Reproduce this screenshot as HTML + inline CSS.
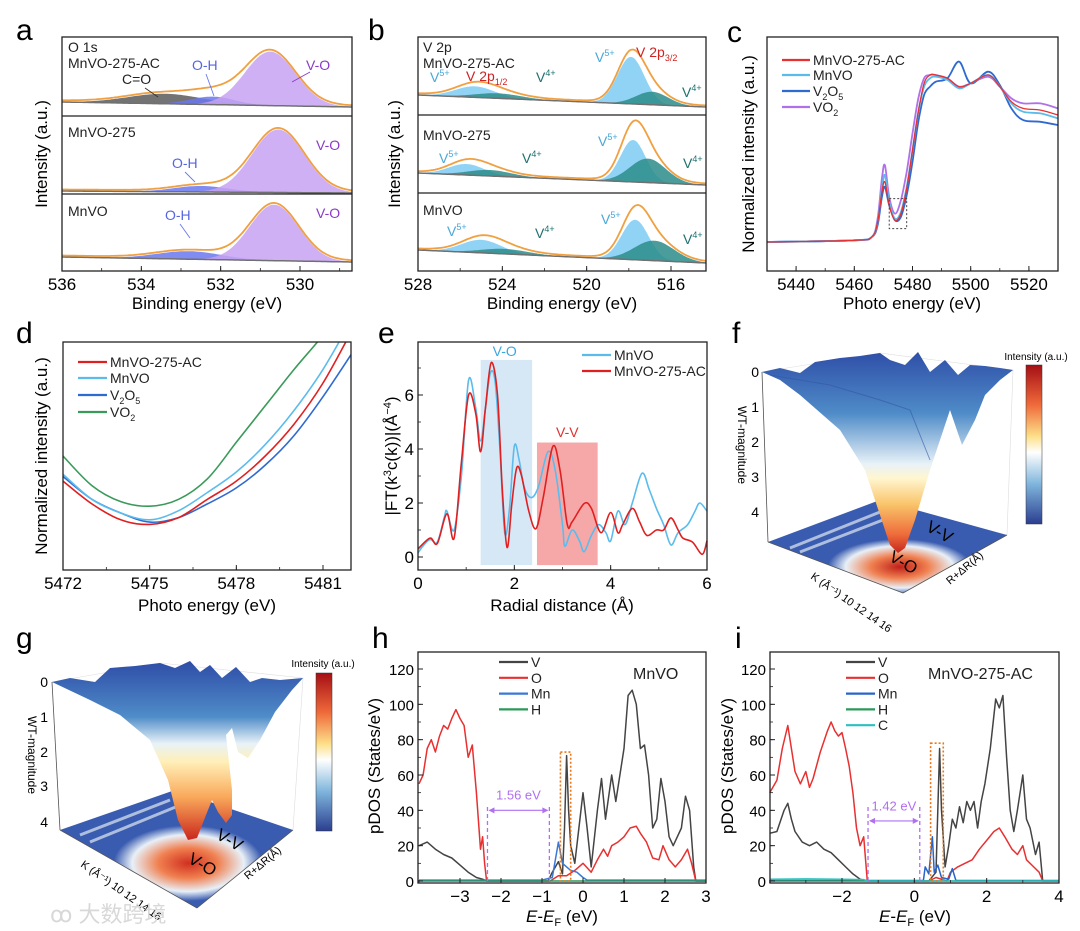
<!DOCTYPE html>
<html><head><meta charset="utf-8">
<style>
html,body{margin:0;padding:0;background:#fff;}
svg{display:block;font-family:"Liberation Sans","Noto Sans CJK SC",sans-serif;}
</style></head>
<body>
<svg id="fig" width="1080" height="931" viewBox="0 0 1080 931" xmlns="http://www.w3.org/2000/svg">
<defs>
<linearGradient id="cbar" x1="0" y1="0" x2="0" y2="1">
<stop offset="0" stop-color="#a50f15"/><stop offset="0.25" stop-color="#ef6a3a"/><stop offset="0.45" stop-color="#fde08a"/><stop offset="0.55" stop-color="#ffffff"/><stop offset="0.75" stop-color="#7fb5dc"/><stop offset="1" stop-color="#2b3e90"/>
</linearGradient>
<linearGradient id="surfF" x1="0" y1="353" x2="0" y2="555" gradientUnits="userSpaceOnUse">
<stop offset="0" stop-color="#2f4fa8"/><stop offset="0.3" stop-color="#4f8cc8"/><stop offset="0.55" stop-color="#e8f2f8"/><stop offset="0.62" stop-color="#fff6d0"/><stop offset="0.75" stop-color="#f9c46a"/><stop offset="0.9" stop-color="#ee6a3a"/><stop offset="1" stop-color="#c0201a"/>
</linearGradient>
<linearGradient id="surfG" x1="0" y1="663" x2="0" y2="842" gradientUnits="userSpaceOnUse">
<stop offset="0" stop-color="#2f4fa8"/><stop offset="0.3" stop-color="#4f8cc8"/><stop offset="0.45" stop-color="#e8f2f8"/><stop offset="0.55" stop-color="#fff0b8"/><stop offset="0.75" stop-color="#f9a85a"/><stop offset="1" stop-color="#c8201a"/>
</linearGradient>
<radialGradient id="floorF" cx="0.55" cy="0.72" r="0.3">
<stop offset="0" stop-color="#c0201a"/><stop offset="0.4" stop-color="#f08050"/><stop offset="0.75" stop-color="#e8f0f8"/><stop offset="1" stop-color="#3a5cb0"/>
</radialGradient>
<radialGradient id="floorG" cx="0.55" cy="0.62" r="0.32">
<stop offset="0" stop-color="#d03020"/><stop offset="0.4" stop-color="#f08050"/><stop offset="0.75" stop-color="#e8f0f8"/><stop offset="1" stop-color="#3a5cb0"/>
</radialGradient>
</defs>

<text x="16" y="40" font-size="30">a</text>
<text x="368" y="40" font-size="30">b</text>
<text x="727" y="42" font-size="30">c</text>
<text x="16" y="343" font-size="30">d</text>
<text x="378" y="343" font-size="30">e</text>
<text x="732" y="343" font-size="30">f</text>
<text x="16" y="648" font-size="30">g</text>
<text x="372" y="648" font-size="30">h</text>
<text x="735" y="648" font-size="30">i</text>

<text x="207" y="309" font-size="17" text-anchor="middle">Binding energy (eV)</text>
<text x="562" y="309" font-size="17" text-anchor="middle">Binding energy (eV)</text>
<text x="912" y="309" font-size="17" text-anchor="middle">Photo energy (eV)</text>
<text x="207" y="611" font-size="17" text-anchor="middle">Photo energy (eV)</text>
<text x="562" y="611" font-size="17" text-anchor="middle">Radial distance (Å)</text>
<text x="562" y="922" font-size="17" text-anchor="middle"><tspan font-style="italic">E</tspan>-<tspan font-style="italic">E</tspan><tspan font-size="11" dy="4">F</tspan><tspan dy="-4"> (eV)</tspan></text>
<text x="915" y="922" font-size="17" text-anchor="middle"><tspan font-style="italic">E</tspan>-<tspan font-style="italic">E</tspan><tspan font-size="11" dy="4">F</tspan><tspan dy="-4"> (eV)</tspan></text>
<text transform="translate(47,154) rotate(-90)" font-size="17" text-anchor="middle">Intensity (a.u.)</text>
<text transform="translate(400,154) rotate(-90)" font-size="17" text-anchor="middle">Intensity (a.u.)</text>
<text transform="translate(754,154) rotate(-90)" font-size="17" text-anchor="middle">Normalized intensity (a.u.)</text>
<text transform="translate(47,456) rotate(-90)" font-size="17" text-anchor="middle">Normalized intensity (a.u.)</text>
<text transform="translate(397,456) rotate(-90)" font-size="17" text-anchor="middle">|FT(k<tspan font-size="11" dy="-6">3</tspan><tspan dy="6">c(k))|(Å</tspan><tspan font-size="11" dy="-6">−4</tspan><tspan dy="6">)</tspan></text>
<text transform="translate(380,766) rotate(-90)" font-size="17" text-anchor="middle">pDOS (States/eV)</text>
<text transform="translate(733,766) rotate(-90)" font-size="17" text-anchor="middle">pDOS (States/eV)</text>

<g>
<polygon points="762,372 880,353 1013,370 1007,535 903,593 768,542" fill="none" stroke="#ddd" stroke-width="0.6"/>
<line x1="880" y1="353" x2="880" y2="490" stroke="#e4e4e4"/>
<polygon points="768,542 880,500 1007,535 903,593" fill="url(#floorF)"/>
<path d="M790,548 L880,512 M800,552 L888,518" stroke="#dfe8f4" stroke-width="3" opacity="0.7"/>
<path d="M762,372 L780,368 800,373 815,362 840,358 860,356 880,353 890,360 905,365 918,352 930,372 945,360 958,375 970,365 985,366 1000,368 1013,370 L1000,380 985,395 975,420 962,445 950,410 940,440 930,470 915,520 905,548 898,553 890,545 880,515 865,470 840,430 800,395 780,380 Z" fill="url(#surfF)"/>
<path d="M770,375 L830,385 880,400 910,410 930,460" fill="none" stroke="#3456a8" stroke-width="1" opacity="0.6"/>
<line x1="762" y1="372" x2="768" y2="542" stroke="#555" stroke-width="0.8"/>
<line x1="768" y1="542" x2="903" y2="593" stroke="#555" stroke-width="0.8"/>
<line x1="903" y1="593" x2="1007" y2="535" stroke="#555" stroke-width="0.8"/>
<g font-size="14" text-anchor="end"><text x="759" y="377">0</text><text x="759" y="412">1</text><text x="759" y="447">2</text><text x="759" y="482">3</text><text x="759" y="517">4</text></g>
<text transform="translate(738,445) rotate(90)" font-size="12" text-anchor="middle">WT-magnitude</text>
<text transform="translate(810,578) rotate(35)" font-size="11">K (Å⁻¹) 10 12 14 16</text>
<text transform="translate(950,585) rotate(-40)" font-size="11">R+ΔR(Å)</text>
<text transform="translate(888,560) rotate(30)" font-size="17">V-O</text>
<text transform="translate(925,530) rotate(30)" font-size="17">V-V</text>
<text x="1036" y="360" font-size="10" text-anchor="middle">Intensity (a.u.)</text>
<rect x="1026" y="365" width="16" height="159" fill="url(#cbar)" stroke="#333" stroke-width="0.5"/>
</g>

<g>
<polygon points="52,682 160,663 303,678 293,830 197,908 60,830" fill="none" stroke="#ddd" stroke-width="0.6"/>
<polygon points="60,830 175,790 293,830 197,908" fill="url(#floorG)"/>
<path d="M80,835 L170,800 M90,842 L178,806" stroke="#dfe8f4" stroke-width="3" opacity="0.7"/>
<path d="M52,682 L70,678 95,682 110,668 135,666 160,663 175,668 190,661 200,672 210,665 222,678 236,667 250,682 262,678 280,680 303,678 L292,690 275,712 260,740 248,758 238,752 232,728 226,735 232,790 232,815 226,823 218,812 212,800 206,815 197,838 188,840 178,820 168,780 150,740 120,715 90,700 Z" fill="url(#surfG)"/>
<line x1="52" y1="682" x2="60" y2="830" stroke="#555" stroke-width="0.8"/>
<line x1="60" y1="830" x2="197" y2="908" stroke="#555" stroke-width="0.8"/>
<line x1="197" y1="908" x2="293" y2="830" stroke="#555" stroke-width="0.8"/>
<g font-size="14" text-anchor="end"><text x="48" y="687">0</text><text x="48" y="722">1</text><text x="48" y="757">2</text><text x="48" y="791">3</text><text x="48" y="827">4</text></g>
<text transform="translate(28,755) rotate(90)" font-size="12" text-anchor="middle">WT-magnitude</text>
<text transform="translate(80,866) rotate(35)" font-size="11">K (Å⁻¹) 10 12 14 16</text>
<text transform="translate(248,880) rotate(-40)" font-size="11">R+ΔR(Å)</text>
<text transform="translate(187,862) rotate(30)" font-size="17">V-O</text>
<text transform="translate(215,838) rotate(30)" font-size="17">V-V</text>
<text x="323" y="667" font-size="10" text-anchor="middle">Intensity (a.u.)</text>
<rect x="316" y="673" width="16" height="158" fill="url(#cbar)" stroke="#333" stroke-width="0.5"/>
</g>

<text x="50" y="922" font-size="22" fill="#d8d8d8">ꝏ 大数跨境</text>

<g id="plots"></g>
</svg>

<script>
// ================= DATA =================
const aCenters = [[533.4, 532.2, 530.75], [533.2, 532.5, 530.55], [533.5, 532.8, 530.65]];
const aHeights = [[10, 8, 54], [0, 6, 63], [0, 8, 56]];
const aFwhm = [[2.2, 1.3, 1.5], [2, 1.6, 1.55], [2, 1.9, 1.45]];
const aBaseLeft = [102, 191, 257];
const aBaseRight = [107, 193, 262];
const aTicks = [536, 534, 532, 530];
const bCenters = [[525.3, 524.2, 517.9, 516.9], [525.7, 524.6, 517.8, 517.1], [525.0, 523.9, 517.7, 516.8]];
const bHeights = [[11, 5, 47, 13], [11, 6, 42, 24], [13, 5, 40, 20]];
const bFwhm = [[2.2, 2.6, 1.5, 1.8], [2.0, 2.4, 1.4, 2.0], [2.2, 2.6, 1.5, 2.2]];
const bBaseLeft = [95, 173, 250];
const bBaseRight = [107, 185, 263];
const bTicks = [528, 524, 520, 516];
const cX = [5430, 5460, 5466, 5468, 5469.5, 5470.5, 5472, 5474, 5476, 5478, 5480, 5482, 5484, 5486, 5488, 5492, 5496, 5500, 5506, 5510, 5514, 5518, 5524, 5530];
const cAC = [0, 0.01, 0.03, 0.12, 0.3, 0.36, 0.22, 0.13, 0.17, 0.32, 0.55, 0.78, 0.95, 1.0, 1.0, 0.98, 0.93, 0.95, 1.0, 0.93, 0.84, 0.8, 0.79, 0.76];
const cMnVO = [0, 0.01, 0.03, 0.12, 0.32, 0.4, 0.24, 0.14, 0.18, 0.33, 0.55, 0.78, 0.93, 0.98, 0.99, 0.97, 0.92, 0.95, 1.0, 0.93, 0.83, 0.78, 0.77, 0.74];
const cV2O5 = [0, 0.01, 0.03, 0.1, 0.27, 0.33, 0.22, 0.13, 0.15, 0.28, 0.48, 0.72, 0.88, 0.93, 0.96, 0.98, 1.08, 0.95, 1.02, 0.94, 0.8, 0.73, 0.72, 0.7];
const cVO2 = [0, 0.01, 0.03, 0.14, 0.38, 0.46, 0.27, 0.17, 0.25, 0.42, 0.65, 0.86, 0.98, 1.0, 1.0, 0.98, 0.93, 0.95, 0.99, 0.93, 0.86, 0.83, 0.83, 0.8];
const cTicks = [5440, 5460, 5480, 5500, 5520];
const dX = [5472, 5473, 5474, 5475, 5476, 5477, 5478, 5479, 5480, 5481, 5482];
const dAC = [0.39, 0.29, 0.22, 0.2, 0.23, 0.31, 0.39, 0.5, 0.64, 0.82, 1.05];
const dMnVO = [0.42, 0.31, 0.25, 0.22, 0.26, 0.34, 0.43, 0.55, 0.7, 0.88, 1.1];
const dV2O5 = [0.41, 0.31, 0.25, 0.21, 0.23, 0.29, 0.36, 0.46, 0.59, 0.76, 0.95];
const dVO2 = [0.5, 0.37, 0.3, 0.28, 0.31, 0.4, 0.56, 0.72, 0.88, 1.03, 1.2];
const dTicks = [5472, 5475, 5478, 5481];
const eXMn = [0, 0.1, 0.25, 0.4, 0.55, 0.6, 0.75, 0.9, 1.05, 1.2, 1.3, 1.4, 1.5, 1.6, 1.7, 1.8, 1.9, 2.0, 2.1, 2.2, 2.35, 2.5, 2.7, 2.85, 3.0, 3.05, 3.2, 3.35, 3.45, 3.6, 3.75, 3.9, 4.0, 4.15, 4.3, 4.45, 4.65, 4.8, 4.95, 5.1, 5.25, 5.4, 5.6, 5.75, 5.85, 6.0];
const eMn = [0.15, 0.4, 0.65, 0.55, 1.5, 1.7, 1.0, 3.0, 6.55, 5.5, 4.3, 5.5, 6.8, 6.5, 4.0, 0.9, 1.8, 4.1, 3.6, 2.6, 2.2, 2.6, 3.9, 3.2, 1.2, 0.4, 1.0, 0.6, 0.2, 0.8, 1.2, 0.9, 0.6, 1.7, 1.2, 2.0, 3.1, 2.5, 1.8, 1.2, 0.45, 0.9, 1.2, 1.7, 2.0, 1.7];
const eXAC = [0, 0.25, 0.4, 0.6, 0.75, 0.9, 1.05, 1.2, 1.3, 1.4, 1.52, 1.65, 1.75, 1.85, 1.95, 2.05, 2.15, 2.3, 2.45, 2.6, 2.8, 2.95, 3.1, 3.2, 3.45, 3.6, 3.8, 4.0, 4.15, 4.25, 4.45, 4.6, 4.75, 4.95, 5.1, 5.25, 5.4, 5.5, 5.7, 5.9, 6.0];
const eAC = [0.3, 0.7, 0.5, 1.6, 0.7, 3.5, 6.0, 5.3, 3.9, 5.5, 7.2, 6.0, 2.5, 0.35, 2.0, 3.3, 3.0, 1.7, 1.05, 2.2, 4.1, 3.2, 1.2, 1.3, 1.98, 1.8, 0.9, 1.65, 0.9, 1.2, 1.8, 1.3, 0.8, 1.0, 1.0, 1.45, 1.0, 0.7, 0.55, 0.1, 0.6];
const eTicks = [0, 2, 4, 6];
const eYTicks = [0, 2, 4, 6];
const hXV = [-4, -3.8, -3.6, -3.4, -3.2, -3.0, -2.8, -2.6, -2.45, -2.35, -0.85, -0.75, -0.6, -0.5, -0.45, -0.4, -0.35, -0.3, -0.2, -0.1, 0, 0.1, 0.2, 0.35, 0.45, 0.55, 0.7, 0.8, 0.9, 1.0, 1.1, 1.2, 1.3, 1.4, 1.5, 1.6, 1.7, 1.8, 1.9, 2.0, 2.1, 2.2, 2.4, 2.5, 2.6, 2.7, 2.75, 3.0];
const hV = [20, 22, 18, 15, 13, 9, 5, 2, 1, 0, 0, 5, 11, 4, 30, 71, 40, 20, 10, 30, 50, 30, 8, 40, 58, 35, 60, 45, 60, 75, 105, 108, 100, 75, 77, 60, 30, 35, 58, 45, 25, 20, 30, 48, 40, 8, 0, 0];
const hXO = [-4, -3.9, -3.8, -3.7, -3.6, -3.5, -3.4, -3.3, -3.2, -3.1, -3.0, -2.9, -2.8, -2.7, -2.6, -2.5, -2.45, -2.4, -2.35, -0.8, -0.6, -0.4, -0.2, -0.1, 0, 0.2, 0.35, 0.5, 0.6, 0.7, 0.85, 1.0, 1.15, 1.3, 1.4, 1.55, 1.7, 1.85, 1.95, 2.1, 2.25, 2.4, 2.55, 2.65, 2.75, 3.0];
const hO = [55, 60, 75, 80, 73, 82, 88, 86, 92, 97, 92, 88, 70, 77, 50, 18, 25, 10, 0, 0, 3, 3, 6, 8, 10, 5, 12, 18, 14, 20, 22, 25, 30, 31, 27, 22, 13, 12, 20, 12, 8, 12, 18, 10, 0, 0];
const hXMn = [-4, -1, -0.75, -0.6, -0.5, -0.4, -0.3, -0.15, 0, 0.1, 3];
const hMn = [0.5, 0.5, 2, 22, 10, 8, 6, 5, 2, 0.5, 0.5];
const hXH = [-4, 3];
const hH = [0, 0];
const hGap = [-2.33, -0.82];
const hBox = [-0.55, -0.3, 73];
const hTicks = [-3, -2, -1, 0, 1, 2, 3];
const pdosYTicks = [0, 20, 40, 60, 80, 100, 120];
const iXV = [-4, -3.8, -3.6, -3.5, -3.4, -3.3, -3.1, -2.9, -2.7, -2.5, -2.3, -2.1, -1.9, -1.7, -1.5, -1.3, 0.4, 0.6, 0.7, 0.75, 0.85, 0.95, 1.05, 1.15, 1.25, 1.35, 1.45, 1.55, 1.65, 1.75, 1.85, 1.95, 2.1, 2.25, 2.35, 2.45, 2.55, 2.65, 2.75, 2.85, 3.0, 3.1, 3.2, 3.35, 3.45, 3.55, 4];
const iV = [27, 28, 40, 44, 35, 28, 22, 20, 22, 18, 16, 12, 8, 4, 1, 0, 0, 5, 75, 40, 8, 20, 35, 30, 42, 33, 45, 40, 45, 30, 45, 55, 75, 103, 98, 105, 70, 40, 28, 40, 60, 35, 30, 15, 22, 0, 0];
const iXO = [-4, -3.8, -3.65, -3.5, -3.4, -3.3, -3.15, -3.0, -2.9, -2.8, -2.6, -2.4, -2.3, -2.2, -2.1, -2.0, -1.9, -1.8, -1.7, -1.6, -1.5, -1.4, -1.3, 0.4, 0.6, 0.9, 1.0, 1.2, 1.4, 1.6, 1.8, 2.0, 2.2, 2.35, 2.5, 2.7, 2.85, 3.0, 3.1, 3.3, 3.45, 3.55, 4];
const iO = [50, 57, 75, 88, 75, 62, 55, 62, 53, 58, 73, 85, 90, 85, 82, 84, 75, 65, 50, 30, 20, 25, 0, 0, 2, 0, 5, 8, 10, 12, 18, 23, 28, 30, 25, 18, 15, 20, 12, 8, 5, 0, 0];
const iXMn = [-4, 0.25, 0.3, 0.4, 0.5, 0.55, 0.65, 0.75, 0.95, 1.05, 1.15, 4];
const iMn = [0.3, 0.3, 8, 4, 25, 5, 9, 2, 1, 7, 0.3, 0.3];
const iXH = [-4, 4];
const iH = [0, 0];
const iXC = [-4, -3, -2, -1.4, -1.3, 4];
const iC = [1, 1.2, 1, 0.8, 0, 0];
const iGap = [-1.28, 0.15];
const iBox = [0.45, 0.8, 78];
const iTicks = [-2, 0, 2, 4];

// ================= HELPERS =================
const NS = 'http://www.w3.org/2000/svg';
const root = document.getElementById('plots');
function mk(tag, attrs, parent) {
  const e = document.createElementNS(NS, tag);
  for (const k in attrs) e.setAttribute(k, attrs[k]);
  (parent || root).appendChild(e);
  return e;
}
function lin(d0, d1, r0, r1) { return v => r0 + (v - d0) * (r1 - r0) / (d1 - d0); }
function smoothPath(pts) {
  if (pts.length < 2) return '';
  let d = 'M' + pts[0][0].toFixed(1) + ',' + pts[0][1].toFixed(1);
  for (let i = 0; i < pts.length - 1; i++) {
    const p0 = pts[i - 1] || pts[i], p1 = pts[i], p2 = pts[i + 1], p3 = pts[i + 2] || p2;
    const c1 = [p1[0] + (p2[0] - p0[0]) / 6, p1[1] + (p2[1] - p0[1]) / 6];
    const c2 = [p2[0] - (p3[0] - p1[0]) / 6, p2[1] - (p3[1] - p1[1]) / 6];
    d += 'C' + c1[0].toFixed(1) + ',' + c1[1].toFixed(1) + ' ' + c2[0].toFixed(1) + ',' + c2[1].toFixed(1) + ' ' + p2[0].toFixed(1) + ',' + p2[1].toFixed(1);
  }
  return d;
}
function linePath(pts) { return 'M' + pts.map(p => p[0].toFixed(1) + ',' + p[1].toFixed(1)).join('L'); }
function frame(x0, y0, x1, y1, name) {
  const r = mk('rect', {x: x0, y: y0, width: x1 - x0, height: y1 - y0, fill: 'none', stroke: '#222', 'stroke-width': 1.3});
  
  
}
function xTicks(ticks, sx, yb, name, minorStep, dmin, dmax) {
  const g = mk('g', {'font-size': 17, 'text-anchor': 'middle'});
  
  
  ticks.forEach(t => {
    const l = mk('line', {x1: sx(t), x2: sx(t), y1: yb, y2: yb - 5, stroke: '#222', 'stroke-width': 1}, g);
    
    
    const tx = mk('text', {x: sx(t), y: yb + 19}, g);
    
    
    tx.textContent = t < 0 ? '\u2212' + Math.abs(t) : String(t);
  });
  if (minorStep) {
    for (let v = Math.ceil(dmin / minorStep) * minorStep; v <= dmax; v += minorStep) {
      const m = mk('line', {x1: sx(v), x2: sx(v), y1: yb, y2: yb - 3, stroke: '#222', 'stroke-width': 0.8}, g);
      
      
    }
  }
}
function yTicks(ticks, sy, xl, name, minorStep, dmin, dmax, fs) {
  const g = mk('g', {'font-size': fs || 17, 'text-anchor': 'end'});
  
  
  ticks.forEach(t => {
    const l = mk('line', {x1: xl, x2: xl + 5, y1: sy(t), y2: sy(t), stroke: '#222', 'stroke-width': 1}, g);
    
    
    const tx = mk('text', {x: xl - 4, y: sy(t) + 6}, g);
    
    
    tx.textContent = String(t);
  });
  if (minorStep) {
    for (let v = Math.ceil(dmin / minorStep) * minorStep; v <= dmax; v += minorStep) {
      const m = mk('line', {x1: xl, x2: xl + 3, y1: sy(v), y2: sy(v), stroke: '#222', 'stroke-width': 0.8}, g);
      
      
    }
  }
}
function series(xs, ys, sx, sy, color, width, name, smooth) {
  const pts = xs.map((x, i) => [sx(x), sy(ys[i])]);
  const p = mk('path', {d: smooth ? smoothPath(pts) : linePath(pts), fill: 'none', stroke: color, 'stroke-width': width, 'stroke-linejoin': 'round'});
  
  
  return p;
}
function txt(x, y, s, size, color, name, anchor) {
  const t = mk('text', {x: x, y: y, 'font-size': size, fill: color || '#222', 'text-anchor': anchor || 'start'});
  
  
  t.innerHTML = s;
  return t;
}
function legendRow(x0, x1, y, color, label, name) {
  const l = mk('line', {x1: x0, x2: x1, y1: y, y2: y, stroke: color, 'stroke-width': 2.2});
  
  
  txt(x1 + 3, y + 5, label, 14, '#222', name);
}
function arrow(x1, y1, x2, y2, color, name) {
  const l = mk('line', {x1: x1, y1: y1, x2: x2, y2: y2, stroke: color, 'stroke-width': 0.9});
  
  
}

// ================= XPS (a, b) =================
function gauss(x, c, h, w) { const s = w / 2.3548; return h * Math.exp(-0.5 * ((x - c) / s) ** 2); }
function xpsPanel(centers, heights, fwhm, bl, br, colors, x0, x1, sx, dmin, dmax, prefix) {
  centers.forEach((cs, k) => {
    const baseAt = x => bl[k] + (br[k] - bl[k]) * (sx(x) - x0) / (x1 - x0);
    const xs = [];
    for (let v = dmax; v >= dmin - 1e-6; v -= 0.05) xs.push(v);
    cs.forEach((c, j) => {
      if (heights[k][j] <= 0) return;
      const top = xs.map(x => [sx(x), baseAt(x) - gauss(x, c, heights[k][j], fwhm[k][j])]);
      const bot = xs.slice().reverse().map(x => [sx(x), baseAt(x)]);
      const p = mk('path', {d: linePath(top.concat(bot)) + 'Z', fill: colors[j], 'fill-opacity': 0.85, stroke: 'none'});
      
      
    });
    const env = xs.map(x => [sx(x), baseAt(x) - 1.5 - cs.reduce((s, c, j) => s + gauss(x, c, heights[k][j], fwhm[k][j]), 0)]);
    const bp = mk('path', {d: linePath(xs.map(x => [sx(x), baseAt(x)])), fill: 'none', stroke: '#707070', 'stroke-width': 1.5});
    
    
    const ep = mk('path', {d: linePath(env), fill: 'none', stroke: '#f0a040', 'stroke-width': 1.8});
    
    
  });
}
const saX = lin(536, 530, 62, 300);
xpsPanel(aCenters, aHeights, aFwhm, aBaseLeft, aBaseRight, ['#5a5a5a', '#6a78ee', '#c8a2f2'], 62, 352, saX, 528.7, 536, 'a');
const sbX = lin(528, 516, 418, 671);
xpsPanel(bCenters, bHeights, bFwhm, bBaseLeft, bBaseRight, ['#7ccbf3', '#2b8c8a', '#7ccbf3', '#2b8c8a'], 418, 706, sbX, 514.35, 528, 'b');
[116, 194].forEach(y => { const l = mk('line', {x1: 62, x2: 352, y1: y, y2: y, stroke: '#222', 'stroke-width': 1.3});   });
[115, 193].forEach(y => { const l = mk('line', {x1: 418, x2: 706, y1: y, y2: y, stroke: '#222', 'stroke-width': 1.3});   });
frame(62, 37, 352, 271, 'a-plot-frame');
frame(418, 37, 706, 271, 'b-plot-frame');
xTicks(aTicks, saX, 271, 'a-x-ticks', 1, 529, 536);
xTicks(bTicks, sbX, 271, 'b-x-ticks', 2, 515, 528);
txt(68, 52, 'O 1s', 14, '#222', 'a-label-o1s');
txt(68, 68, 'MnVO-275-AC', 14, '#222', 'a-label-sample1');
txt(122, 84, 'C=O', 14, '#222', 'a-label-co');
arrow(145, 88, 158, 97, '#333', 'a-arrow-co');
txt(192, 70, 'O-H', 14, '#5566e0', 'a-label-oh1');
arrow(206, 74, 214, 96, '#6a78ee', 'a-arrow-oh1');
txt(306, 70, 'V-O', 14, '#8a3ac8', 'a-label-vo1');
arrow(310, 72, 292, 82, '#8a3ac8', 'a-arrow-vo1');
txt(68, 137, 'MnVO-275', 14, '#222', 'a-label-sample2');
txt(172, 168, 'O-H', 14, '#5566e0', 'a-label-oh2');
arrow(185, 172, 195, 182, '#6a78ee', 'a-arrow-oh2');
txt(316, 150, 'V-O', 14, '#8a3ac8', 'a-label-vo2');
txt(68, 216, 'MnVO', 14, '#222', 'a-label-sample3');
txt(165, 220, 'O-H', 14, '#5566e0', 'a-label-oh3');
arrow(180, 224, 190, 238, '#6a78ee', 'a-arrow-oh3');
txt(316, 218, 'V-O', 14, '#8a3ac8', 'a-label-vo3');
txt(423, 52, 'V 2p', 14, '#222', 'b-label-v2p');
txt(423, 68, 'MnVO-275-AC', 14, '#222', 'b-label-sample1');
txt(430, 82, 'V<tspan font-size="9" dy="-6">5+</tspan>', 14, '#4aa8d8', 'b-label-v5-a');
txt(466, 81, 'V 2p<tspan font-size="9" dy="4">1/2</tspan>', 14, '#d02020', 'b-label-2p12');
txt(536, 82, 'V<tspan font-size="9" dy="-6">4+</tspan>', 14, '#1f7070', 'b-label-v4-a');
txt(595, 62, 'V<tspan font-size="9" dy="-6">5+</tspan>', 14, '#4aa8d8', 'b-label-v5-b');
txt(636, 57, 'V 2p<tspan font-size="9" dy="4">3/2</tspan>', 14, '#d02020', 'b-label-2p32');
txt(682, 97, 'V<tspan font-size="9" dy="-6">4+</tspan>', 14, '#1f7070', 'b-label-v4-b');
txt(423, 140, 'MnVO-275', 14, '#222', 'b-label-sample2');
txt(439, 163, 'V<tspan font-size="9" dy="-6">5+</tspan>', 14, '#4aa8d8', 'b-label-v5-c');
txt(522, 163, 'V<tspan font-size="9" dy="-6">4+</tspan>', 14, '#1f7070', 'b-label-v4-c');
txt(598, 146, 'V<tspan font-size="9" dy="-6">5+</tspan>', 14, '#4aa8d8', 'b-label-v5-d');
txt(683, 168, 'V<tspan font-size="9" dy="-6">4+</tspan>', 14, '#1f7070', 'b-label-v4-d');
txt(423, 215, 'MnVO', 14, '#222', 'b-label-sample3');
txt(447, 236, 'V<tspan font-size="9" dy="-6">5+</tspan>', 14, '#4aa8d8', 'b-label-v5-e');
txt(535, 238, 'V<tspan font-size="9" dy="-6">4+</tspan>', 14, '#1f7070', 'b-label-v4-e');
txt(601, 224, 'V<tspan font-size="9" dy="-6">5+</tspan>', 14, '#4aa8d8', 'b-label-v5-f');
txt(683, 244, 'V<tspan font-size="9" dy="-6">4+</tspan>', 14, '#1f7070', 'b-label-v4-f');

// ================= c =================
const scX = lin(5430, 5530, 767, 1058);
const scY = lin(0, 1, 242, 75);
series(cX, cVO2, scX, scY, '#b070e8', 1.8, 'c-series-vo2', true);
series(cX, cV2O5, scX, scY, '#2f6ad0', 1.8, 'c-series-v2o5', true);
series(cX, cMnVO, scX, scY, '#5bbcec', 1.8, 'c-series-mnvo', true);
series(cX, cAC, scX, scY, '#e83030', 1.3, 'c-series-mnvo-275-ac', true);
const cb = mk('rect', {x: scX(5472), y: scY(0.26), width: scX(5478) - scX(5472), height: scY(0.08) - scY(0.26), fill: 'none', stroke: '#444', 'stroke-dasharray': '2,2', 'stroke-width': 1});


frame(767, 37, 1058, 271, 'c-plot-frame');
xTicks(cTicks, scX, 271, 'c-x-ticks', 10, 5430, 5530);
legendRow(782, 810, 60, '#e83030', 'MnVO-275-AC', 'c-legend-mnvo-275-ac');
legendRow(782, 810, 75, '#5bbcec', 'MnVO', 'c-legend-mnvo');
legendRow(782, 810, 91, '#2f6ad0', 'V<tspan font-size="9" dy="4">2</tspan><tspan dy="-4">O</tspan><tspan font-size="9" dy="4">5</tspan>', 'c-legend-v2o5');
legendRow(782, 810, 107, '#b070e8', 'VO<tspan font-size="9" dy="4">2</tspan>', 'c-legend-vo2');

// ================= d =================
const sdX = lin(5472, 5481, 63, 323);
const sdY = lin(0, 1, 570, 342);
const clip = mk('clipPath', {id: 'dclip'});


const cr = mk('rect', {x: 63, y: 342, width: 288, height: 228}, clip);


const dg = mk('g', {'clip-path': 'url(#dclip)'});


[[dVO2, '#3a9a5a', 'd-series-vo2'], [dV2O5, '#2f6ad0', 'd-series-v2o5'], [dMnVO, '#5bbcec', 'd-series-mnvo'], [dAC, '#e02020', 'd-series-mnvo-275-ac']].forEach(s => {
  dg.appendChild(series(dX, s[0], sdX, sdY, s[1], 1.6, s[2], true));
});
frame(63, 342, 351, 570, 'd-plot-frame');
xTicks(dTicks, sdX, 570, 'd-x-ticks', 1.5, 5472, 5482);
legendRow(78, 107, 362, '#e02020', 'MnVO-275-AC', 'd-legend-mnvo-275-ac');
legendRow(78, 107, 378, '#5bbcec', 'MnVO', 'd-legend-mnvo');
legendRow(78, 107, 395, '#2f6ad0', 'V<tspan font-size="9" dy="4">2</tspan><tspan dy="-4">O</tspan><tspan font-size="9" dy="4">5</tspan>', 'd-legend-v2o5');
legendRow(78, 107, 412, '#3a9a5a', 'VO<tspan font-size="9" dy="4">2</tspan>', 'd-legend-vo2');

// ================= e =================
const seX = lin(0, 6, 418, 707);
const seY = lin(0, 6, 557, 395);
const vob = mk('rect', {x: seX(1.3), y: seY(7.3), width: seX(2.37) - seX(1.3), height: seY(-0.3) - seY(7.3), fill: '#d6e8f6'});


const vvb = mk('rect', {x: seX(2.47), y: seY(4.24), width: seX(3.73) - seX(2.47), height: seY(-0.3) - seY(4.24), fill: '#f6a8a8'});


txt(seX(1.8), seY(7.45), 'V-O', 14, '#3aa8e0', 'e-label-vo', 'middle');
txt(seX(3.1), seY(4.45), 'V-V', 14, '#e03030', 'e-label-vv', 'middle');
series(eXMn, eMn, seX, seY, '#5bbcec', 1.6, 'e-series-mnvo', true);
series(eXAC, eAC, seX, seY, '#e02020', 1.6, 'e-series-mnvo-275-ac', true);
frame(418, 342, 707, 570, 'e-plot-frame');
xTicks(eTicks, seX, 570, 'e-x-ticks', 1, 0, 6);
yTicks(eYTicks, seY, 418, 'e-y-ticks', 1, 0, 7);
legendRow(582, 611, 355, '#5bbcec', 'MnVO', 'e-legend-mnvo');
legendRow(582, 611, 371, '#e02020', 'MnVO-275-AC', 'e-legend-mnvo-275-ac');

// ================= h & i =================
function pdosPanel(x0, x1, dmin, dmax, sx, sy, sers, gap, box, ticks, gapLabel, title, legendX, titleX, prefix) {
  sers.forEach(s => series(s[0], s[1], sx, sy, s[2], 1.5, prefix + '-series-' + s[3], false));
  gap.forEach((g, k) => {
    const l = mk('line', {x1: sx(g), x2: sx(g), y1: sy(0), y2: sy(42), stroke: '#b070f0', 'stroke-width': 1.3, 'stroke-dasharray': '4,3'});
    
    
  });
  const ay = sy(gapLabel[1] - 6);
  const ar = mk('line', {x1: sx(gap[0]) + 2, x2: sx(gap[1]) - 2, y1: ay, y2: ay, stroke: '#b070f0', 'stroke-width': 1.2});
  
  
  const ah = mk('path', {d: 'M' + (sx(gap[0]) + 1) + ',' + ay + 'l6,-3v6z M' + (sx(gap[1]) - 1) + ',' + ay + 'l-6,-3v6z', fill: '#b070f0'});
  
  
  txt((sx(gap[0]) + sx(gap[1])) / 2, sy(gapLabel[1]), gapLabel[0], 13, '#b070f0', prefix + '-gap-label', 'middle');
  const bx = mk('rect', {x: sx(box[0]), y: sy(box[2]), width: sx(box[1]) - sx(box[0]), height: sy(0) - sy(box[2]), fill: 'none', stroke: '#e87818', 'stroke-width': 1.6, 'stroke-dasharray': '2,2'});
  
  
  frame(x0, 652, x1, 883, prefix + '-plot-frame');
  xTicks(ticks, sx, 883, prefix + '-x-ticks', 1, dmin, dmax);
  yTicks(pdosYTicks, sy, x0, prefix + '-y-ticks', 10, 0, 125, 15);
  sers.forEach((s, k) => legendRow(legendX, legendX + 29, 662 + k * 15.8, s[2], s[3], prefix + '-legend-' + s[3]));
  txt(titleX, 679, title, 16, '#222', prefix + '-sample-title');
}
const shX = lin(-3, 3, 460, 706);
const shY = lin(0, 120, 881, 669);
pdosPanel(418, 706, -4, 3, shX, shY,
  [[hXV, hV, '#444444', 'V'], [hXO, hO, '#e83030', 'O'], [hXMn, hMn, '#3a78d8', 'Mn'], [hXH, hH, '#2a9a5a', 'H']],
  hGap, hBox, hTicks, ['1.56 eV', 46], 'MnVO', 499, 633, 'h');
const siX = lin(-2, 4, 842, 1059);
const siY = lin(0, 120, 881, 669);
pdosPanel(770, 1059, -4, 4, siX, siY,
  [[iXV, iV, '#444444', 'V'], [iXO, iO, '#e83030', 'O'], [iXMn, iMn, '#2a64c8', 'Mn'], [iXH, iH, '#2a9a5a', 'H'], [iXC, iC, '#2ac0c0', 'C']],
  iGap, iBox, iTicks, ['1.42 eV', 40], 'MnVO-275-AC', 846, 928, 'i');
</script>
</body></html>
